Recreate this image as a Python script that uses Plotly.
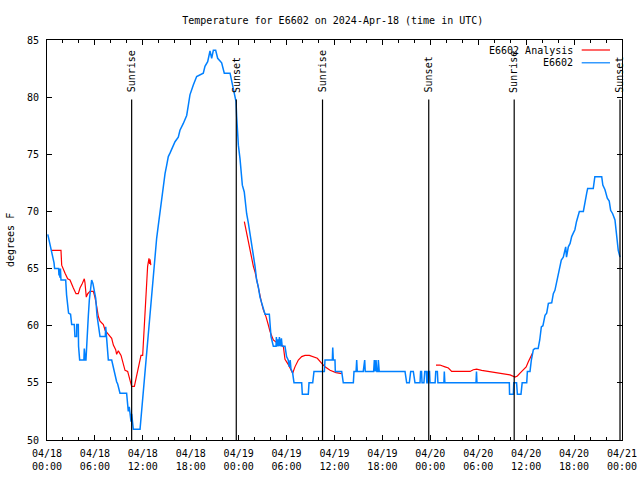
import plotly.graph_objects as go

# ---------------- data ----------------
# hours since 2024-04-18 00:00 UTC
obs_hours = [0.1, 0.58, 0.88, 0.95, 1.45, 1.5, 1.55, 1.62, 1.68, 1.75, 2.34, 2.45, 2.55, 2.7, 2.95,
             3.09, 3.42, 3.5, 3.71, 3.73, 3.92, 3.95, 4.09, 4.62, 4.67, 4.72, 4.76, 4.8, 4.88, 5.0,
             5.17, 5.3, 5.43, 5.59, 5.75, 5.93, 6.1, 6.26, 6.45, 6.64, 7.3, 7.35, 7.45, 7.56, 7.68,
             8.1, 8.2, 8.39, 8.45, 8.72, 8.85, 9.14, 9.97, 10.05, 10.18, 10.3, 10.45, 10.52, 10.6,
             10.7, 10.81, 11.65, 11.85, 12.06, 12.27, 12.48, 12.69, 12.9, 13.11, 13.31, 13.52,
             13.73, 13.94, 14.15, 14.36, 14.57, 14.78, 14.99, 15.19, 15.4, 15.61, 15.82, 16.03,
             16.44, 16.65, 17.07, 17.49, 17.7, 17.9, 18.32, 18.74, 19.57, 19.78, 20.12, 20.41,
             20.62, 20.83, 21.12, 21.37, 21.87, 22.2, 22.92, 23.33, 23.67, 23.75, 23.96, 24.17,
             24.29, 24.46, 24.7, 24.79, 25.0, 25.21, 25.42, 25.63, 25.84, 26.05, 26.25, 26.46,
             26.67, 26.88, 27.09, 27.3, 27.84, 27.92, 28.05, 28.34, 28.68, 28.72, 28.8, 28.9, 29.0,
             29.1, 29.2, 29.35, 29.45, 29.8, 30.0, 30.2, 30.34, 30.45, 30.55, 30.75, 30.93, 31.89,
             31.97, 32.72, 32.81, 33.27, 33.43, 34.73, 34.81, 35.73, 35.78, 35.85, 36.06, 36.1,
             36.9, 37.1, 38.36, 38.44, 38.7, 38.78, 38.85, 39.6, 39.78, 39.85, 40.9, 40.99, 41.1,
             41.2, 41.3, 41.45, 41.49, 41.6, 44.83, 45.04, 45.37, 45.54, 45.87, 46.08, 46.71,
             46.78, 46.9, 46.96, 47.2, 47.3, 47.5, 47.56, 47.65, 47.7, 47.9, 47.96, 48.6, 48.68,
             48.88, 48.95, 49.7, 49.75, 49.82, 53.72, 53.78, 53.84, 57.89, 57.92, 58.4, 58.45,
             58.8, 58.9, 59.35, 59.5, 60.07, 60.15, 60.48, 60.65, 60.9, 61.1, 61.5, 61.7, 61.9,
             62.1, 62.36, 62.57, 62.78, 63.2, 63.4, 63.6, 63.8, 64.0, 64.2, 64.4, 64.65, 64.95,
             65.05, 65.28, 65.5, 65.7, 65.9, 66.1, 66.3, 66.5, 66.66, 67.16, 67.37, 67.58, 67.7,
             68.4, 68.6, 69.46, 69.6, 69.87, 70.16, 70.4, 70.58, 70.83, 71.12, 71.25, 71.4,
             71.53, 71.75]
obs_temps = [68.0, 66.6, 65.5, 65.0, 65.0, 64.4, 65.0, 64.2, 65.0, 64.0, 64.0, 62.7, 61.7, 61.1, 61.0,
             60.1, 60.1, 59.05, 59.05, 60.1, 60.1, 58.2, 57.0, 57.0, 58.0, 57.3, 58.0, 57.0, 57.0, 59.2,
             60.8, 62.25, 63.4, 64.0, 63.7, 63.0, 62.4, 60.9, 60.07, 59.05, 59.05, 59.9, 59.05, 58.2, 57.0,
             57.0, 56.7, 56.1, 55.8, 55.1, 54.9, 54.1, 54.1, 53.5, 52.5, 52.9, 52.0, 51.6, 52.3,
             51.3, 50.93, 50.93, 52.6, 54.4, 56.1, 57.9, 59.3, 60.8, 62.5, 64.6, 66.3,
             67.65, 68.8, 70.0, 71.15, 72.3, 73.3, 74.06, 74.8, 75.1, 75.4, 75.8, 76.1,
             76.5, 77.1, 77.7, 78.4, 79.3, 80.2, 81.06, 81.8, 82.1, 82.7, 83.1, 84.04,
             83.4, 84.1, 84.1, 83.4, 83.0, 82.1, 82.1, 80.8, 79.6, 78.3, 75.8, 74.6,
             73.2, 72.3, 71.7, 71.0, 69.8, 69.0, 68.1, 67.2, 66.3, 65.2, 64.0, 63.4,
             62.5, 61.96, 61.4, 61.0, 61.0, 59.9, 59.05, 58.2, 58.2, 59.0, 58.2, 58.8, 58.2,
             59.0, 58.2, 58.9, 58.2, 58.2, 57.3, 57.0, 56.4, 57.0, 56.2, 55.9, 55.0, 55.0,
             54.0, 54.0, 55.0, 55.0, 56.0, 56.0, 57.0, 57.0, 58.1, 57.0, 57.0, 56.0,
             56.0, 55.0, 55.0, 56.0, 56.0, 57.0, 56.0, 56.0, 57.0, 56.0, 56.0, 57.0, 56.0,
             57.0, 56.0, 56.0, 57.0, 56.0, 56.0, 55.0, 55.0, 56.0, 56.0, 55.0, 55.0,
             56.0, 56.0, 55.0, 55.0, 56.0, 56.0, 55.0, 55.0, 56.0, 56.0, 55.0, 55.0, 56.0,
             56.0, 55.0, 55.0, 56.0, 55.0, 55.0, 56.0, 55.0, 55.0, 54.0, 54.0, 55.0,
             55.0, 54.0, 54.0, 55.0, 55.0, 56.0, 56.0, 57.0, 57.9, 58.0, 58.0, 58.75, 59.9,
             60.0, 60.9, 61.1, 61.96, 62.0, 62.8, 63.1, 63.7, 64.3, 64.9, 65.75, 66.0, 66.9,
             66.0, 66.9, 67.2, 67.8, 68.1, 68.4, 69.1, 69.5, 70.0, 70.0, 71.0, 71.6, 72.0,
             72.0, 73.04, 73.04, 72.3, 71.9, 71.15, 70.9, 70.1, 69.8, 69.25, 68.4, 67.2,
             66.6, 66.0]

# analysis series (None = gap between analysis runs)
ana_hours = [0.58, 1.75, 1.84, 2.05, 2.26, 2.59, 2.88, 3.3, 3.63, 3.92, 4.13, 4.42, 4.67, 4.75, 4.92,
             5.1, 5.38, 5.8, 6.0, 6.22, 6.43, 6.64, 7.06, 7.27, 7.68, 8.1, 8.31, 8.6, 8.72, 8.93,
             9.27, 9.56, 9.77, 10.1, 10.39, 10.6, 10.94, 11.23, 11.56, 11.77, 11.98, 12.1, 12.27,
             12.48, 12.6, 12.77, 12.85, 12.9, 13.0, None,
             24.71, 25.0, 25.21, 25.42, 25.63, 25.84, 26.05, 26.25, 26.46, 26.67, 26.88, 27.09,
             27.42, 27.7, 27.92, 28.34, 28.76, 29.18, 29.59, 29.8, 30.22, 30.51, 30.76, 31.05,
             31.47, 31.89, 32.31, 32.85, 33.35, 33.85, 34.4, 34.81, 35.44, 36.19, 36.9, None,
             48.71, 49.2, 49.84, 50.26, 50.67, 52.97, 53.38, 53.8, 54.43, 55.26, 56.1, 56.7,
             57.98, 58.6, 58.9, 59.23, 59.6, 60.0, 60.27, 60.56, 60.8]
ana_temps = [66.6, 66.6, 65.3, 64.9, 64.6, 64.1, 64.0, 63.3, 62.8, 62.8, 63.3, 63.7, 64.1, 63.8, 62.5,
             62.8, 63.0, 63.0, 62.5, 61.7, 60.8, 60.4, 60.1, 59.6, 59.3, 58.9, 58.3, 57.9, 57.5, 57.8,
             57.4, 56.6, 56.1, 56.0, 55.3, 54.7, 54.7, 55.6, 56.7, 57.4, 57.4, 59.05, 61.0,
             63.1, 65.2, 65.9, 65.4, 65.8, 65.3, None,
             69.1, 68.1, 67.3, 66.6, 65.75, 65.2, 64.7, 64.0, 63.3, 62.5, 61.96, 61.4,
             60.8, 60.1, 59.5, 58.75, 58.5, 58.3, 58.2, 57.06, 56.6, 56.1, 55.84, 56.4,
             57.0, 57.3, 57.4, 57.4, 57.3, 57.15, 56.7, 56.4, 56.1, 55.9, 55.8, None,
             56.56, 56.56, 56.4, 56.3, 56.0, 56.0, 56.15, 56.2, 56.1, 56.0, 55.9, 55.8,
             55.7, 55.5, 55.6, 55.85, 56.15, 56.4, 56.85, 57.35, 57.6]

sun_hours = [10.6, 23.7, 34.5, 47.8, 58.5, 71.75]
sun_labels = ["Sunrise", "Sunset", "Sunrise", "Sunset", "Sunrise", "Sunset"]
sun_line_top = 79.8
sun_text_y = 80.3

tick_hours = [0, 6, 12, 18, 24, 30, 36, 42, 48, 54, 60, 66, 72]
tick_labels = ["04/18<br>00:00", "04/18<br>06:00", "04/18<br>12:00", "04/18<br>18:00",
               "04/19<br>00:00", "04/19<br>06:00", "04/19<br>12:00", "04/19<br>18:00",
               "04/20<br>00:00", "04/20<br>06:00", "04/20<br>12:00", "04/20<br>18:00",
               "04/21<br>00:00"]
y_ticks = [50, 55, 60, 65, 70, 75, 80, 85]

title_text = "Temperature for E6602 on 2024-Apr-18 (time in UTC)"
series_names = ["E6602 Analysis", "E6602"]
series_colors = ["#ff0000", "#0080ff"]

FONT = "DejaVu Sans Mono"

fig = go.Figure()
fig.add_trace(go.Scatter(x=ana_hours, y=ana_temps, mode="lines", name=series_names[0],
                         line=dict(color=series_colors[0], width=1.2), connectgaps=False,
                         showlegend=False))
fig.add_trace(go.Scatter(x=obs_hours, y=obs_temps, mode="lines", name=series_names[1],
                         line=dict(color=series_colors[1], width=1.5), showlegend=False))

for h, lab in zip(sun_hours, sun_labels):
    fig.add_shape(type="line", xref="x", yref="y", x0=h, x1=h, y0=50, y1=sun_line_top,
                  line=dict(color="black", width=1.2), layer="above")
    fig.add_annotation(x=h, y=sun_text_y, xref="x", yref="y", text=lab, textangle=-90,
                       showarrow=False, xanchor="center", yanchor="bottom", borderpad=0,
                       font=dict(family=FONT, size=10, color="black"))

# legend drawn gnuplot style (text left, sample right)
leg_y = [0.975, 0.943]
for name, col, ly in zip(series_names, series_colors, leg_y):
    fig.add_annotation(x=0.9165, y=ly, xref="paper", yref="paper", text=name, showarrow=False,
                       xanchor="right", yanchor="middle", borderpad=0,
                       font=dict(family=FONT, size=10, color="black"))
    fig.add_shape(type="line", xref="paper", yref="paper", x0=0.9299, x1=0.9791, y0=ly, y1=ly,
                  line=dict(color=col, width=1.2))

# y-axis title
fig.add_annotation(x=-0.0643, y=0.5, xref="paper", yref="paper", text="degrees F", textangle=-90,
                   showarrow=False, xanchor="center", yanchor="middle",
                   font=dict(family=FONT, size=10, color="black"))

fig.update_layout(
    width=640, height=480,
    margin=dict(l=47, r=18, t=40, b=40, autoexpand=False),
    paper_bgcolor="white", plot_bgcolor="white",
    font=dict(family=FONT, size=10, color="black"),
    title=dict(text=title_text, x=0.52, xanchor="center", y=0.958, yanchor="middle",
               font=dict(family=FONT, size=10, color="black")),
    showlegend=False,
)
fig.update_xaxes(range=[0, 72], tickvals=tick_hours, ticktext=tick_labels,
                 ticks="inside", ticklen=5, tickwidth=1, tickcolor="black",
                 showline=True, linecolor="black", linewidth=1, mirror="ticks",
                 showgrid=False, zeroline=False, ticklabelstandoff=4,
                 minor=dict(dtick=2, tick0=0, ticks="inside", ticklen=3, tickcolor="black",
                            showgrid=False),
                 tickfont=dict(family=FONT, size=10, color="black"))
fig.update_yaxes(range=[50, 85], tickvals=y_ticks, ticks="inside", ticklen=5, tickwidth=1,
                 tickcolor="black", showline=True, linecolor="black", linewidth=1, mirror="ticks",
                 showgrid=False, zeroline=False, ticklabelstandoff=5,
                 tickfont=dict(family=FONT, size=10, color="black"))

# remove the browser's default 8px body margin so the figure sits at the page origin
fig.write_html("out.html", config={"displayModeBar": False},
               post_script="document.body.style.margin='0';document.body.style.overflow='hidden';")
